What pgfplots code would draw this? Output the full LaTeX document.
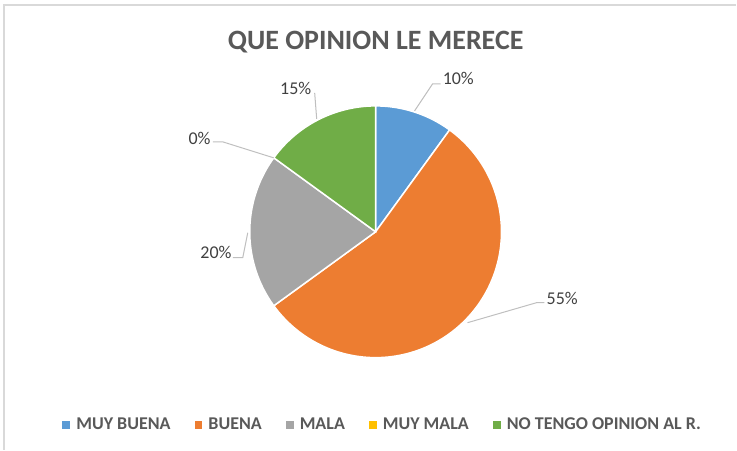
\documentclass[border=0pt]{standalone}
\usepackage{pgfplots}
\pgfplotsset{compat=1.18}
\usepackage{fontspec}
\setmainfont{Carlito}
\definecolor{cBlue}{HTML}{5B9BD5}
\definecolor{cOrange}{HTML}{ED7D31}
\definecolor{cGray}{HTML}{A5A5A5}
\definecolor{cYellow}{HTML}{FFC000}
\definecolor{cGreen}{HTML}{70AD47}
\definecolor{cTitle}{HTML}{595959}
\definecolor{cLabel}{HTML}{404040}
\definecolor{cLeader}{HTML}{BFBFBF}
\definecolor{cFrame}{HTML}{D9D9D9}
\begin{document}
\begin{tikzpicture}
\begin{axis}[
  scale only axis, width=737pt, height=450pt,
  xmin=0, xmax=737, ymin=0, ymax=450, y dir=reverse,
  hide axis, clip=false,
  legend columns=-1,
  legend image code/.code={\path[#1,draw=none] (0pt,-4pt) rectangle (8pt,4pt);},
  legend style={draw=none, fill=none, at={(axis cs:382,425)}, anchor=center,
    font=\fontsize{18}{20}\selectfont\bfseries, text=cTitle,
    column sep=6pt, /tikz/every even column/.append style={column sep=24pt},
    nodes={inner sep=0pt}},
]
\path (axis cs:0,0) rectangle (axis cs:737,450);
\draw[cFrame, line width=1.5pt] (axis cs:4,450) -- (axis cs:4,5) -- (axis cs:737,5);
% slices: percentages 10, 55, 20, 0, 15 (cumulative bounds)
\addplot[fill=cBlue, draw=white, line width=1.5pt, domain=0:10, samples=30]
  ({376+126*cos(90-3.6*x)}, {232-126*sin(90-3.6*x)}) -- (axis cs:376,232) -- cycle;
\addlegendentry{MUY BUENA}
\addplot[fill=cOrange, draw=white, line width=1.5pt, domain=10:65, samples=120]
  ({376+126*cos(90-3.6*x)}, {232-126*sin(90-3.6*x)}) -- (axis cs:376,232) -- cycle;
\addlegendentry{BUENA}
\addplot[fill=cGray, draw=white, line width=1.5pt, domain=65:85, samples=50]
  ({376+126*cos(90-3.6*x)}, {232-126*sin(90-3.6*x)}) -- (axis cs:376,232) -- cycle;
\addlegendentry{MALA}
\addlegendimage{fill=cYellow}
\addlegendentry{MUY MALA}
\addplot[fill=cGreen, draw=white, line width=1.5pt, domain=85:100, samples=40]
  ({376+126*cos(90-3.6*x)}, {232-126*sin(90-3.6*x)}) -- (axis cs:376,232) -- cycle;
\addlegendentry{NO TENGO OPINION AL R.}
% title
\node[text=cTitle, font=\fontsize{28}{32}\selectfont\bfseries] at (axis cs:376,42) {QUE OPINION LE MERECE};
% leader lines
\draw[cLeader, line width=1pt] (axis cs:415,111) -- (axis cs:433,84) -- (axis cs:441,84);
\draw[cLeader, line width=1pt] (axis cs:317,119) -- (axis cs:315,93);
\draw[cLeader, line width=1pt] (axis cs:274,158) -- (axis cs:223,142) -- (axis cs:213,142);
\draw[cLeader, line width=1pt] (axis cs:248,233) -- (axis cs:243,258) -- (axis cs:233,258);
\draw[cLeader, line width=1pt] (axis cs:468,323) -- (axis cs:537,303) -- (axis cs:545,303);
% data labels
\begin{scope}[every node/.style={text=cLabel, font=\fontsize{18}{20}\selectfont, inner sep=0pt}]
\node[anchor=west] at (axis cs:443,79) {10\%};
\node[anchor=west] at (axis cs:547,299) {55\%};
\node[anchor=east] at (axis cs:232,253) {20\%};
\node[anchor=east] at (axis cs:211,139) {0\%};
\node at (axis cs:296,89) {15\%};
\end{scope}
\end{axis}
\end{tikzpicture}
\end{document}
